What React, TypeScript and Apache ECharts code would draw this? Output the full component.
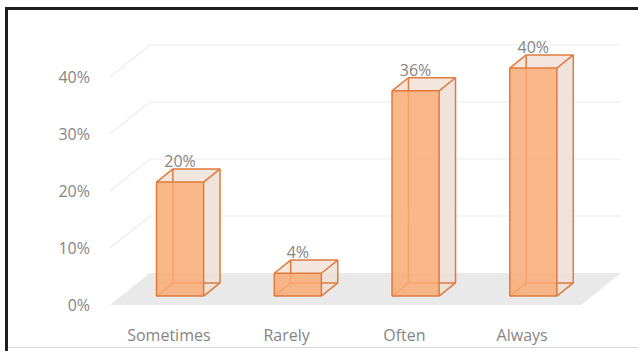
import React, { useEffect, useRef } from "react";
import * as echarts from "echarts";

const categories = ["Sometimes", "Rarely", "Often", "Always"];
const values = [20, 4, 36, 40];
const yTicks = [0, 10, 20, 30, 40];

const DX = 40;
const DY = -32;
const F1 = 0.28;
const F2 = 0.69;
const FONT = '"Open Sans", "Liberation Sans", sans-serif';
const TEXT = "#858585";

export default function App() {
  const ref = useRef<HTMLDivElement>(null);
  useEffect(() => {
    if (!ref.current) return;
    const chart = echarts.init(ref.current, undefined, { renderer: "svg" });

    const floorItem = (params: any, api: any) => {
      const cs = params.coordSys;
      const y0 = api.coord([0, 0])[1];
      return {
        type: "polygon",
        shape: {
          points: [
            [cs.x, y0],
            [cs.x + cs.width, y0],
            [cs.x + cs.width + DX, y0 + DY],
            [cs.x + DX, y0 + DY],
          ],
        },
        style: { fill: "#E9E9E9", stroke: null },
      };
    };

    const gridItem = (params: any, api: any) => {
      const cs = params.coordSys;
      const y = api.coord([0, api.value(1)])[1];
      return {
        type: "polyline",
        shape: {
          points: [
            [cs.x, y],
            [cs.x + DX, y + DY],
            [cs.x + cs.width + DX, y + DY],
          ],
        },
        style: { stroke: "#EBEBEB", lineWidth: 1.2, fill: null },
      };
    };

    const barItem = (params: any, api: any) => {
      const v = api.value(1);
      const c0 = api.coord([api.value(0), 0]);
      const c1 = api.coord([api.value(0), v]);
      const band = api.size([1, 0])[0];
      const hw = band * 0.2;
      const p = (sx: number, top: boolean, f: number) => [
        c0[0] + sx * hw + DX * f,
        (top ? c1[1] : c0[1]) + DY * f,
      ];
      const FBL = p(-1, false, F1), FBR = p(1, false, F1), FTL = p(-1, true, F1), FTR = p(1, true, F1);
      const BBL = p(-1, false, F2), BBR = p(1, false, F2), BTL = p(-1, true, F2), BTR = p(1, true, F2);
      const edge = { stroke: "#DF7A3B", lineWidth: 1.5, fill: null };
      const line = (a: number[], b: number[]) => ({
        type: "line",
        shape: { x1: a[0], y1: a[1], x2: b[0], y2: b[1] },
        style: edge,
      });
      return {
        type: "group",
        children: [
          { type: "polygon", shape: { points: [FBR, BBR, BTR, FTR] }, style: { fill: "rgba(236,222,213,0.85)" } },
          { type: "polygon", shape: { points: [FTL, FTR, BTR, BTL] }, style: { fill: "#F3E6DE" } },
          line(BBL, BBR), line(BBL, BTL), line(FBL, BBL),
          { type: "polygon", shape: { points: [FBL, FBR, FTR, FTL] }, style: { fill: "rgba(249,170,116,0.85)" } },
          line(FBL, FBR), line(FBR, FTR), line(FTR, FTL), line(FTL, FBL),
          line(FTL, BTL), line(FTR, BTR), line(BTL, BTR), line(BTR, BBR), line(FBR, BBR),
          {
            type: "text",
            style: {
              text: v + "%",
              x: c0[0] + DX * F1,
              y: c1[1] + DY * F2 - 8,
              align: "center",
              verticalAlign: "middle",
              fill: TEXT,
              fontSize: 16,
              fontFamily: FONT,
            },
          },
        ],
      };
    };

    chart.setOption({
      animation: false,
      grid: { left: 110, right: 57, top: 77, bottom: 46 },
      xAxis: {
        type: "category",
        data: categories,
        axisLine: { show: false },
        axisTick: { show: false },
        splitLine: { show: false },
        axisLabel: { color: TEXT, fontSize: 16, fontFamily: FONT, margin: 22 },
      },
      yAxis: {
        type: "value",
        min: 0,
        max: 40,
        interval: 10,
        axisLine: { show: false },
        axisTick: { show: false },
        splitLine: { show: false },
        axisLabel: { formatter: "{value}%", color: TEXT, fontSize: 16, fontFamily: FONT, margin: 20 },
      },
      graphic: [
        { type: "line", shape: { x1: 5, y1: 8.5, x2: 638, y2: 8.5 }, style: { stroke: "#1E1E1E", lineWidth: 3 } },
        { type: "line", shape: { x1: 6.5, y1: 7, x2: 6.5, y2: 351 }, style: { stroke: "#1E1E1E", lineWidth: 3 } },
        { type: "line", shape: { x1: 8, y1: 347.5, x2: 638, y2: 347.5 }, style: { stroke: "#D9D9D9", lineWidth: 1 } },
      ],
      series: [
        { type: "custom", renderItem: floorItem, data: [[0, 0]], silent: true, z: 1 },
        {
          type: "custom",
          renderItem: gridItem,
          data: yTicks.filter((t) => t > 0).map((t) => [0, t]),
          silent: true,
          z: 2,
        },
        { type: "custom", renderItem: barItem, data: values.map((v, i) => [i, v]), z: 3 },
      ],
    });
    return () => chart.dispose();
  }, []);
  return (
    <div
      ref={ref}
      style={{ position: "fixed", left: 0, top: 0, width: 638, height: 351, background: "#fff" }}
    />
  );
}
